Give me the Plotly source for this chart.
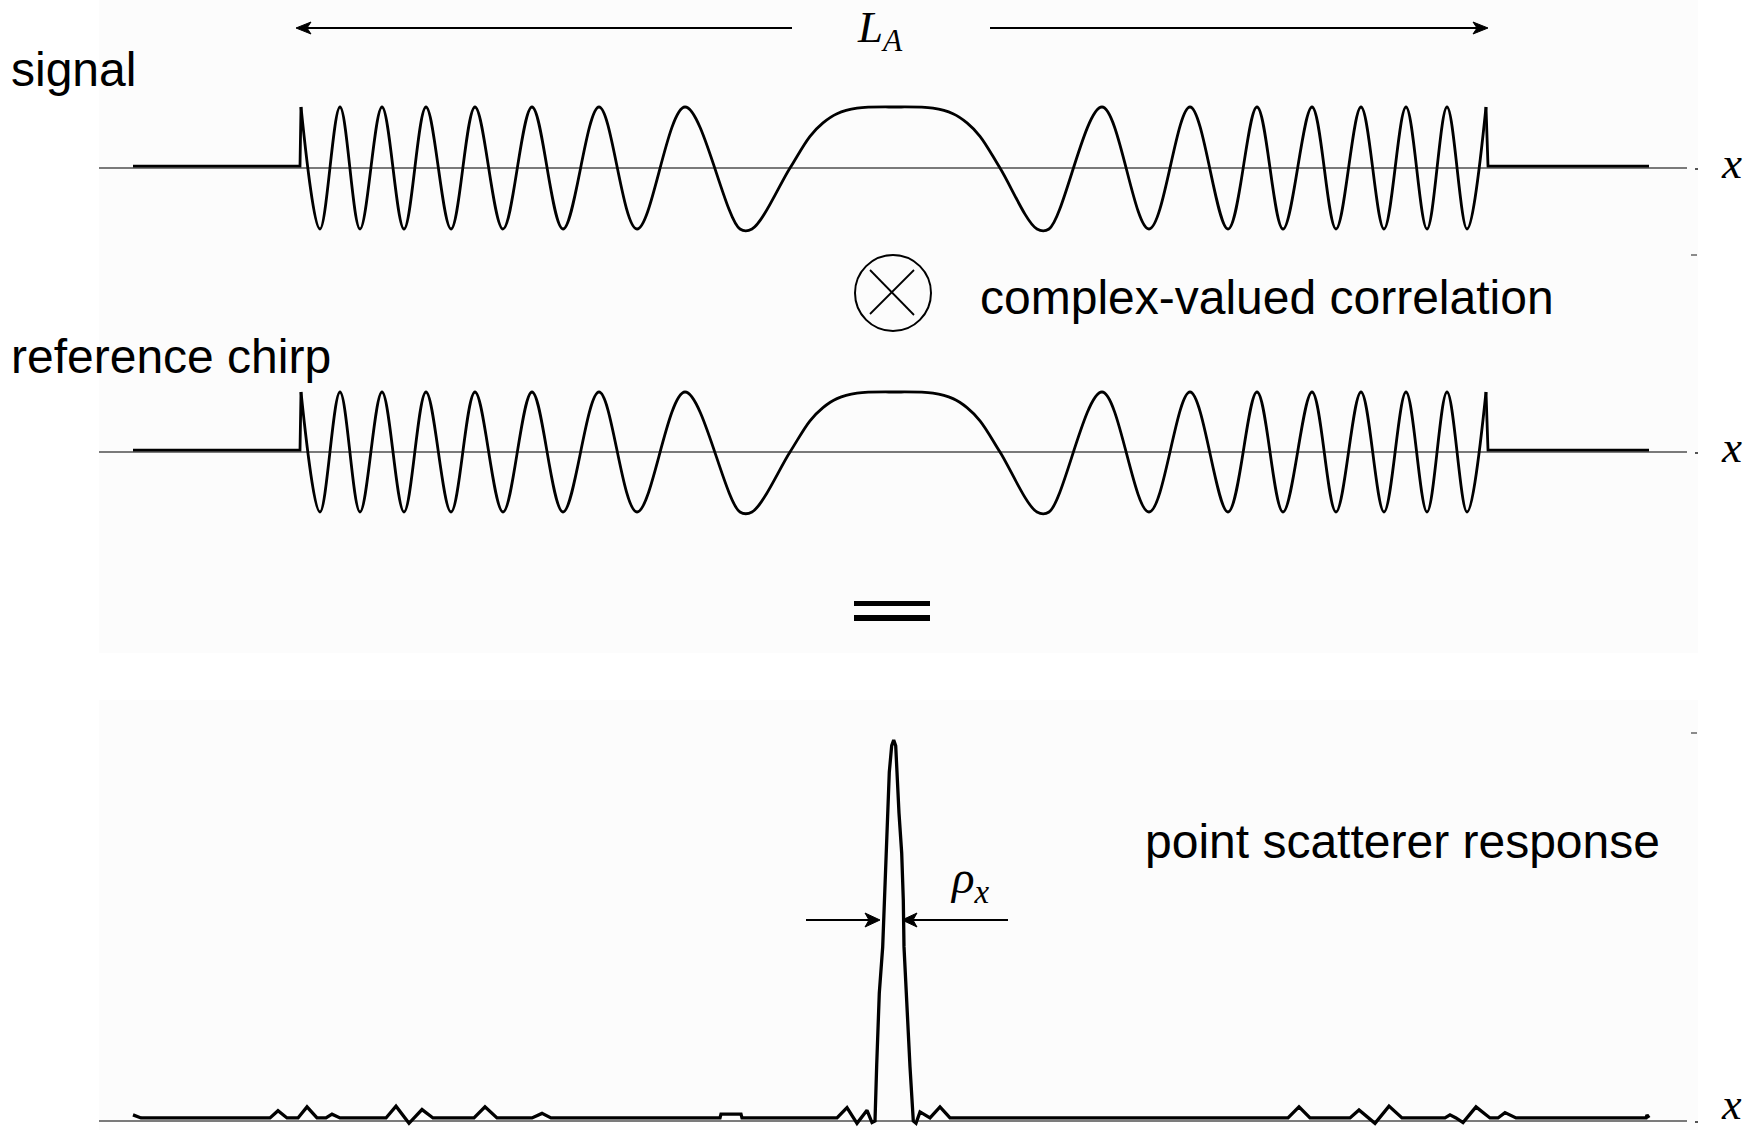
import plotly.graph_objects as go

W, H = 1756, 1130

# ---------------- data ----------------
# azimuth chirp (signal and reference chirp): extrema and shoulder points, x along track
chirp_x = [301, 320, 340, 360, 382, 404, 426, 451, 475, 503, 532, 563, 599, 637, 685, 740, 752,
           790, 810, 823, 837, 857, 895, 933, 953, 967, 980, 1000,
           1037, 1049, 1102, 1149, 1190, 1228, 1257, 1283, 1312, 1336, 1361, 1384, 1406, 1427,
           1447, 1467, 1486]
chirp_y = [1, -1, 1, -1, 1, -1, 1, -1, 1, -1, 1, -1, 1, -1, 1, -1, -1,
           0, 0.52, 0.74, 0.89, 0.98, 1, 0.98, 0.89, 0.74, 0.52, 0,
           -1, -1, 1, -1, 1, -1, 1, -1, 1, -1, 1, -1, 1, -1,
           1, -1, 1]
# zero segments before / after the synthetic aperture
lead_x = [133, 300, 301]
lead_y = [0.03, 0.03, 1]
tail_x = [1486, 1488, 1649]
tail_y = [1, 0.03, 0.03]

# compressed point scatterer response (normalised amplitude)
resp_x = [133, 141, 270, 278, 287, 298, 307, 317, 326, 332, 340, 386, 396, 409, 422, 433,
          474, 485, 497, 532, 542, 551, 720, 721, 741, 742, 837, 847, 857, 867, 872,
          875, 876.7, 879.3, 882.7, 884.3, 886.7, 887.7, 889.3, 891.7, 893.7, 895.7, 896.7,
          899, 901.7, 903.3, 904, 906, 910, 913.3,
          916, 920, 930, 940, 950, 1288, 1299, 1310, 1350, 1359, 1375, 1389, 1402, 1445,
          1450, 1456, 1463, 1476, 1490, 1498, 1505, 1516, 1646, 1647, 1649]
resp_y = [0.016, 0.008, 0.008, 0.027, 0.008, 0.008, 0.037, 0.008, 0.008, 0.018, 0.008, 0.008,
          0.039, -0.006, 0.030, 0.008,
          0.008, 0.037, 0.008, 0.008, 0.020, 0.008, 0.008, 0.018, 0.018, 0.008, 0.008, 0.035,
          -0.006, 0.028, -0.004,
          0.0, 0.147, 0.336, 0.457, 0.58, 0.703, 0.808, 0.916, 0.985, 1.0, 0.985, 0.916,
          0.808, 0.703, 0.58, 0.457, 0.336, 0.142, 0.0,
          -0.006, 0.024, 0.008, 0.037, 0.008, 0.008, 0.037, 0.008, 0.008, 0.029, -0.006,
          0.039, 0.008, 0.008,
          0.016, 0.008, -0.004, 0.037, 0.008, 0.008, 0.022, 0.008, 0.008, 0.016, 0.008]

axis_start, axis_end = 99, 1687

# ---------------- layout helpers (pixel anchors) ----------------
def px(x):
    return x / W

def py(y):
    return 1 - y / H

def yrange(zero_px, unit_px):
    return [(zero_px - H) / unit_px, zero_px / unit_px]

BLACK = "#000000"
GREY = "#7a7a7a"
SANS = "Liberation Sans, Arial, sans-serif"
SERIF = "Liberation Serif, Times New Roman, serif"

fig = go.Figure()

for yax in ["y", "y2"]:
    fig.add_trace(go.Scatter(x=lead_x, y=lead_y, mode="lines", yaxis=yax, xaxis="x",
                             line=dict(color=BLACK, width=2.8), hoverinfo="skip"))
    fig.add_trace(go.Scatter(x=chirp_x, y=chirp_y, mode="lines", yaxis=yax, xaxis="x",
                             line=dict(color=BLACK, width=2.8, shape="spline", smoothing=1.0),
                             hoverinfo="skip"))
    fig.add_trace(go.Scatter(x=tail_x, y=tail_y, mode="lines", yaxis=yax, xaxis="x",
                             line=dict(color=BLACK, width=2.8), hoverinfo="skip"))

fig.add_trace(go.Scatter(x=resp_x, y=resp_y, mode="lines", yaxis="y3", xaxis="x",
                         line=dict(color=BLACK, width=3.3), hoverinfo="skip"))

shapes = []
# faint panel backgrounds
shapes.append(dict(type="rect", xref="paper", yref="paper", x0=px(99), x1=px(1698),
                   y0=py(653), y1=py(0), fillcolor="#fcfcfc", line=dict(width=0), layer="below"))
shapes.append(dict(type="rect", xref="paper", yref="paper", x0=px(99), x1=px(1698),
                   y0=py(1130), y1=py(700), fillcolor="#fcfcfc", line=dict(width=0), layer="below"))
# x axes (zero lines) of the three panels
for yref in ["y", "y2", "y3"]:
    shapes.append(dict(type="line", xref="x", yref=yref, x0=axis_start, x1=axis_end, y0=0, y1=0,
                       line=dict(color=GREY, width=2), layer="below"))
# little end dots and ticks at right
for yy in [169, 453, 1122]:
    shapes.append(dict(type="line", xref="paper", yref="paper", x0=px(1695), x1=px(1698),
                       y0=py(yy), y1=py(yy), line=dict(color="#555555", width=2)))
for yy in [255, 733]:
    shapes.append(dict(type="line", xref="paper", yref="paper", x0=px(1691), x1=px(1697),
                       y0=py(yy), y1=py(yy), line=dict(color="#666666", width=1.5)))
# correlation operator (circle with cross)
shapes.append(dict(type="circle", xref="paper", yref="paper", x0=px(855), x1=px(931),
                   y0=py(331), y1=py(255), line=dict(color=BLACK, width=2)))
shapes.append(dict(type="line", xref="paper", yref="paper", x0=px(870), x1=px(914),
                   y0=py(270), y1=py(315), line=dict(color=BLACK, width=1.8)))
shapes.append(dict(type="line", xref="paper", yref="paper", x0=px(914), x1=px(870),
                   y0=py(270), y1=py(314), line=dict(color=BLACK, width=1.8)))
# equals sign
for (t, b) in [(601, 606), (615, 621)]:
    shapes.append(dict(type="rect", xref="paper", yref="paper", x0=px(854), x1=px(930),
                       y0=py(b), y1=py(t), fillcolor=BLACK, line=dict(width=0)))


def arrow(xh, yh, xt, length=15, half=6, notch=4, width=2):
    d = 1 if xt > xh else -1          # direction from tip towards tail
    shapes.append(dict(type="line", xref="paper", yref="paper",
                       x0=px(xt), x1=px(xh + d * (length - notch)), y0=py(yh), y1=py(yh),
                       line=dict(color=BLACK, width=width)))
    path = "M {} {} L {} {} L {} {} L {} {} Z".format(
        px(xh), py(yh),
        px(xh + d * length), py(yh - half),
        px(xh + d * (length - notch)), py(yh),
        px(xh + d * length), py(yh + half))
    shapes.append(dict(type="path", xref="paper", yref="paper", path=path,
                       fillcolor=BLACK, line=dict(color=BLACK, width=1)))


arrow(296, 28, 792)
arrow(1488, 28, 990)
arrow(880, 920, 806, length=15, half=7)
arrow(902, 920, 1008, length=15, half=7)

ann = []
def text(x, y, s, size, family=SANS, xanchor="left"):
    ann.append(dict(x=px(x), y=py(y), xref="paper", yref="paper", text=s, showarrow=False,
                    xanchor=xanchor, yanchor="middle",
                    font=dict(family=family, size=size, color=BLACK)))

text(9, 69, "signal", 48)
text(9, 356, "reference chirp", 48)
text(978, 297, "complex-valued correlation", 48)
text(1143, 841, "point scatterer response", 48)
text(1719, 163, "<i>x</i>", 45, SERIF)
text(1719, 447, "<i>x</i>", 45, SERIF)
text(1719, 1104, "<i>x</i>", 44, SERIF)
text(855, 30, "<i>L<sub>A</sub></i>", 45, SERIF)
text(948, 880, "<i>ρ<sub>x</sub></i>", 47, SERIF)

fig.update_layout(
    width=W, height=H, margin=dict(l=0, r=0, t=0, b=0),
    paper_bgcolor="white", plot_bgcolor="rgba(0,0,0,0)",
    showlegend=False,
    xaxis=dict(range=[0, W], visible=False, fixedrange=True),
    yaxis=dict(range=yrange(168, 61), visible=False, fixedrange=True, domain=[0, 1]),
    yaxis2=dict(range=yrange(452, 60), visible=False, fixedrange=True, overlaying="y"),
    yaxis3=dict(range=yrange(1121, 381), visible=False, fixedrange=True, overlaying="y"),
    shapes=shapes, annotations=ann,
)

fig.write_html("out.html", config={"displayModeBar": False},
               post_script="document.body.style.margin='0';"
                           "document.documentElement.style.overflow='hidden';")
